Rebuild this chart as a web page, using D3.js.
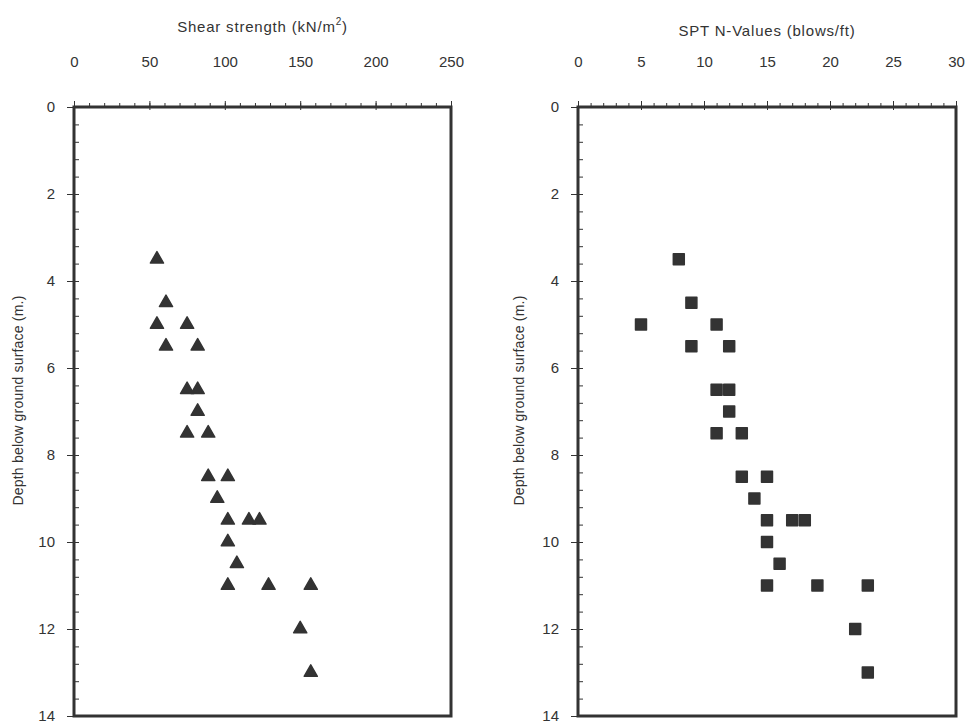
<!DOCTYPE html>
<html>
<head>
<meta charset="utf-8">
<script src="https://cdn.jsdelivr.net/npm/d3@7"></script>
<style>
  body { margin: 0; background: #fff; }
  text { font-family: "Liberation Sans", Arial, sans-serif; fill: #333; }
</style>
</head>
<body>
<div id="chart"></div>
<script>
// depth of each sample (m), shared by both plots
const depth = [3.5, 4.5, 5, 5, 5.5, 5.5, 6.5, 6.5, 7, 7.5, 7.5, 8.5, 8.5, 9,
  9.5, 9.5, 9.5, 10, 10.5, 11, 11, 11, 12, 13];
// shear strength (kN/m2)
const shear = [55, 61, 55, 75, 61, 82, 75, 82, 82, 75, 89, 89, 102, 95,
  102, 116, 123, 102, 108, 102, 129, 157, 150, 157];
// SPT N-values (blows/ft)
const spt = [8, 9, 5, 11, 9, 12, 11, 12, 12, 11, 13, 13, 15, 14,
  15, 17, 18, 15, 16, 15, 19, 23, 22, 23];
const depthTicks = [0, 2, 4, 6, 8, 10, 12, 14];
const shearTicks = [0, 50, 100, 150, 200, 250];
const sptTicks = [0, 5, 10, 15, 20, 25, 30];

const W = 969, H = 723;
const INK = '#333';

const svg = d3.select('#chart').append('svg')
  .attr('width', W)
  .attr('height', H);

const panels = [
  { x0: 74, x1: 451, values: shear, ticks: shearTicks, minor: 10, marker: 'triangle',
    yTitleX: 23, titleY: 32 },
  { x0: 578, x1: 956, values: spt, ticks: sptTicks, minor: 1, marker: 'square',
    yTitleX: 524, titleY: 36 },
];
const plotTop = 107, plotBottom = 716;

panels.forEach((p, idx) => {
  const x = d3.scaleLinear().domain([p.ticks[0], p.ticks[p.ticks.length - 1]]).range([p.x0, p.x1]);
  const y = d3.scaleLinear().domain([0, 14]).range([plotTop, plotBottom]);
  const g = svg.append('g');

  // minor ticks on top axis
  g.append('g')
    .attr('transform', `translate(0,${plotTop})`)
    .call(d3.axisTop(x).tickValues(d3.range(x.domain()[0], x.domain()[1] + 1e-9, p.minor)).tickSize(4).tickFormat(''))
    .call(a => a.select('.domain').remove())
    .call(a => a.selectAll('line').attr('stroke', INK));

  // major ticks on top axis
  g.append('g')
    .attr('transform', `translate(0,${plotTop})`)
    .call(d3.axisTop(x).tickValues(p.ticks).tickSize(6).tickPadding(34))
    .call(a => a.select('.domain').remove())
    .call(a => a.selectAll('line').attr('stroke', INK).attr('y2', -6).attr('y1', 3))
    .call(a => a.selectAll('text').style('font-size', '15px').attr('fill', INK));

  // minor ticks on left axis (inside)
  g.append('g')
    .attr('transform', `translate(${p.x0},0)`)
    .call(d3.axisLeft(y).tickValues(d3.range(0, 14.01, 0.4)).tickSize(-5).tickFormat(''))
    .call(a => a.select('.domain').remove())
    .call(a => a.selectAll('line').attr('stroke', INK));

  // major ticks on left axis
  g.append('g')
    .attr('transform', `translate(${p.x0},0)`)
    .call(d3.axisLeft(y).tickValues(depthTicks).tickSize(7).tickPadding(12))
    .call(a => a.select('.domain').remove())
    .call(a => a.selectAll('line').attr('stroke', INK).attr('x2', -7).attr('x1', 3))
    .call(a => a.selectAll('text').style('font-size', '15px').attr('fill', INK));

  // frame
  g.append('rect')
    .attr('x', p.x0).attr('y', plotTop)
    .attr('width', p.x1 - p.x0).attr('height', plotBottom - plotTop)
    .attr('fill', 'none')
    .attr('stroke', INK)
    .attr('stroke-width', 3);

  // titles
  const title = g.append('text')
    .attr('x', (p.x0 + p.x1) / 2)
    .attr('y', p.titleY)
    .attr('text-anchor', 'middle')
    .style('font-size', '15px')
    .style('letter-spacing', '0.8px');
  if (idx === 0) {
    title.text('Shear strength (kN/m');
    title.append('tspan').attr('dy', -7).style('font-size', '10px').text('2');
    title.append('tspan').attr('dy', 7).text(')');
  } else {
    title.text('SPT N-Values (blows/ft)');
  }

  g.append('text')
    .attr('transform', `translate(${p.yTitleX},${(plotTop + plotBottom) / 2 - 11}) rotate(-90)`)
    .attr('text-anchor', 'middle')
    .style('font-size', '14px')
    .style('letter-spacing', '0.2px')
    .text('Depth below ground surface (m.)');

  // markers
  const sym = p.marker === 'triangle'
    ? d3.symbol().type(d3.symbolTriangle).size(75)
    : d3.symbol().type(d3.symbolSquare).size(120);
  g.selectAll('path.pt')
    .data(depth.map((d, i) => ({ d, v: p.values[i] })))
    .join('path')
    .attr('class', 'pt')
    .attr('transform', d => `translate(${x(d.v)},${y(d.d)})`)
    .attr('d', sym)
    .attr('fill', INK)
    .attr('stroke', INK)
    .attr('stroke-width', 1.5)
    .attr('stroke-linejoin', 'round');
});
</script>
</body>
</html>
